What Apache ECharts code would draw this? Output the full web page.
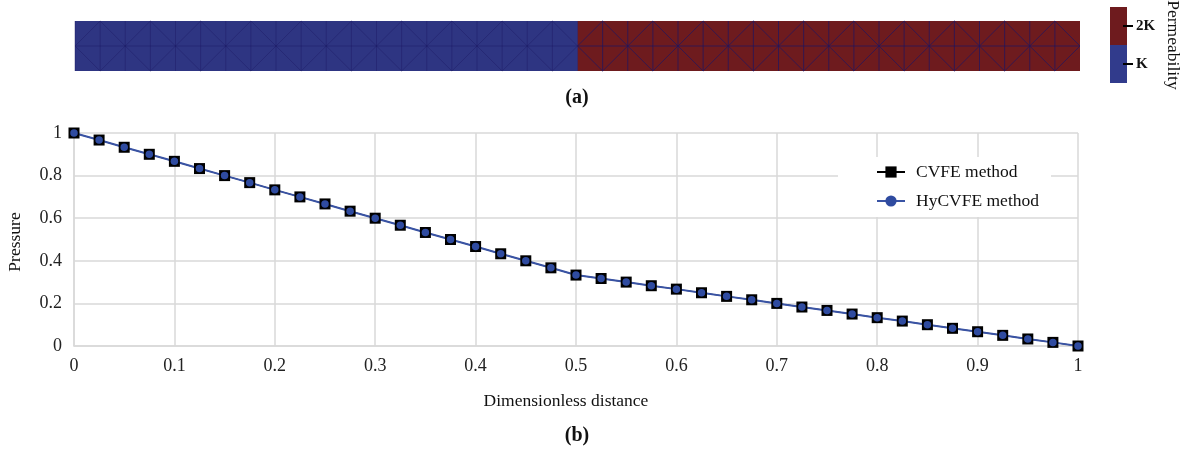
<!DOCTYPE html>
<html>
  <head>
    <title>Permeability and pressure</title>
    <meta http-equiv="Content-Type" content="text/html; charset=UTF-8">
    <style type="text/css">
      body {
        margin: 0;
        padding: 0;
        background-color: white;
      }
      #main {
        width: 1204px;
        height: 452px;
      }
    </style>
  </head>
  <body>
    <div id="main"></div>
    <script src="https://cdn.jsdelivr.net/npm/echarts@6/dist/echarts.min.js" type="text/javascript" charset="utf-8"></script>
    <script type="text/javascript">
      var distance = [0, 0.025, 0.05, 0.075, 0.1, 0.125, 0.15, 0.175, 0.2, 0.225, 0.25, 0.275, 0.3, 0.325, 0.35, 0.375, 0.4, 0.425, 0.45, 0.475, 0.5,
        0.525, 0.55, 0.575, 0.6, 0.625, 0.65, 0.675, 0.7, 0.725, 0.75, 0.775, 0.8, 0.825, 0.85, 0.875, 0.9, 0.925, 0.95, 0.975, 1];
      var cvfePressure = [1, 0.967, 0.933, 0.9, 0.867, 0.833, 0.8, 0.767, 0.733, 0.7, 0.667, 0.633, 0.6, 0.567, 0.533, 0.5, 0.467, 0.433, 0.4, 0.367, 0.333,
        0.317, 0.3, 0.283, 0.267, 0.25, 0.233, 0.217, 0.2, 0.183, 0.167, 0.15, 0.133, 0.117, 0.1, 0.083, 0.067, 0.05, 0.033, 0.017, 0];
      var hycvfePressure = [1, 0.967, 0.933, 0.9, 0.867, 0.833, 0.8, 0.767, 0.733, 0.7, 0.667, 0.633, 0.6, 0.567, 0.533, 0.5, 0.467, 0.433, 0.4, 0.367, 0.333,
        0.317, 0.3, 0.283, 0.267, 0.25, 0.233, 0.217, 0.2, 0.183, 0.167, 0.15, 0.133, 0.117, 0.1, 0.083, 0.067, 0.05, 0.033, 0.017, 0];
      var seriesNames = ['CVFE method', 'HyCVFE method'];
      var regionStart = [0, 0.5];
      var regionEnd = [0.5, 1];
      var regionColors = ['#2e3582', '#6e1b1e'];
      var permeabilityLabels = ['K', '2K'];
      var permeabilityColors = ['#313b8c', '#6e1b1e'];

      var serif = '"Liberation Serif", "Times New Roman", serif';

      function pairs(xs, ys) {
        return xs.map(function (x, i) { return [x, ys[i]]; });
      }

      // one rectangle per permeability region
      function renderRegion(params, api) {
        var a = api.coord([api.value(0), 0]);
        var b = api.coord([api.value(1), 1]);
        return {
          type: 'rect',
          shape: { x: a[0], y: b[1], width: b[0] - a[0], height: a[1] - b[1] },
          style: { fill: regionColors[params.dataIndex] }
        };
      }

      // left edge + midline + the two diagonals of each mesh column
      function renderMesh(params, api) {
        var x0 = api.value(0);
        var x1 = api.value(1);
        var even = params.dataIndex % 2 === 0;
        // the mesh reads stronger over the red half
        var stroke = x0 < regionEnd[0] ? 'rgba(28,22,98,0.4)' : 'rgba(28,22,98,0.7)';
        var lineStyle = { stroke: stroke, lineWidth: 1, fill: null };
        var segs = [
          [[x0, 0], [x0, 1]],
          [[x0, 0.5], [x1, 0.5]],
          even ? [[x0, 0.5], [x1, 1]] : [[x0, 1], [x1, 0.5]],
          even ? [[x0, 0.5], [x1, 0]] : [[x0, 0], [x1, 0.5]]
        ];
        return {
          type: 'group',
          children: segs.map(function (s) {
            var p = api.coord(s[0]);
            var q = api.coord(s[1]);
            return { type: 'line', shape: { x1: p[0], y1: p[1], x2: q[0], y2: q[1] }, style: lineStyle };
          })
        };
      }

      // colour bar ticks straddle the right edge of the bar, axisTick would not sit there
      function renderBandTick(params, api) {
        var p = api.coord([1, params.dataIndex]);
        return {
          type: 'line',
          shape: { x1: p[0] - 4, y1: p[1], x2: p[0] + 6, y2: p[1] },
          style: { stroke: '#000', lineWidth: 2 }
        };
      }

      var myChart = echarts.init(document.getElementById('main'));
      var option = {
        backgroundColor: 'white',
        animation: false,
        textStyle: { fontFamily: serif },
        title: [
          { text: '(a)', left: 577, top: 88, textAlign: 'center', padding: 0,
            textStyle: { fontFamily: serif, fontSize: 20, fontWeight: 'bold', color: '#111' } },
          { text: '(b)', left: 577, top: 426, textAlign: 'center', padding: 0,
            textStyle: { fontFamily: serif, fontSize: 20, fontWeight: 'bold', color: '#111' } }
        ],
        grid: [
          { left: 74, top: 133, width: 1004, height: 213, outerBoundsMode: 'none' },
          { left: 75, top: 21, width: 1005, height: 50, outerBoundsMode: 'none' },
          { left: 1110, top: 7, width: 17, height: 76, outerBoundsMode: 'none' }
        ],
        legend: {
          data: seriesNames,
          orient: 'vertical',
          left: 838,
          top: 157,
          padding: [6, 12, 7, 38],
          backgroundColor: '#fff',
          itemWidth: 28,
          itemHeight: 14,
          itemGap: 11,
          symbolSize: 8,
          align: 'left',
          textStyle: { fontFamily: serif, fontSize: 17.5, color: '#111', padding: [0, 0, 0, 6] }
        },
        xAxis: [
          {
            gridIndex: 0, type: 'value', min: 0, max: 1, interval: 0.1,
            name: 'Dimensionless distance', nameLocation: 'middle', nameGap: 46,
            nameTextStyle: { fontFamily: serif, fontSize: 17.5, color: '#111', padding: [0, 20, 0, 0] },
            axisLine: { show: true, lineStyle: { color: '#d9d9d9', width: 1.5 } },
            axisTick: { show: false },
            axisLabel: { fontFamily: serif, fontSize: 18, color: '#222', margin: 11 },
            splitLine: { show: true, lineStyle: { color: '#d9d9d9', width: 1.5 } }
          },
          { gridIndex: 1, type: 'value', min: 0, max: 1, show: false },
          { gridIndex: 2, type: 'value', min: 0, max: 1, show: false }
        ],
        yAxis: [
          {
            gridIndex: 0, type: 'value', min: 0, max: 1, interval: 0.2,
            name: 'Pressure', nameLocation: 'middle', nameGap: 50,
            nameTextStyle: { fontFamily: serif, fontSize: 17.5, color: '#111', padding: [0, 5, 0, 0] },
            axisLine: { show: true, lineStyle: { color: '#d9d9d9', width: 1.5 } },
            axisTick: { show: false },
            axisLabel: { fontFamily: serif, fontSize: 18, color: '#222', margin: 12 },
            splitLine: { show: true, lineStyle: { color: '#d9d9d9', width: 1.5 } }
          },
          { gridIndex: 1, type: 'value', min: 0, max: 1, show: false },
          {
            gridIndex: 2, type: 'category', position: 'right', offset: 7, z: 5,
            data: permeabilityLabels,
            name: 'Permeability', nameLocation: 'middle', nameRotate: -90, nameGap: 30,
            nameTextStyle: { fontFamily: serif, fontSize: 17.5, color: '#111' },
            axisLine: { show: false },
            axisTick: { show: false },
            axisLabel: { fontFamily: serif, fontSize: 15, fontWeight: 'bold', color: '#111', margin: 2 },
            splitLine: { show: false }
          }
        ],
        series: [
          {
            name: seriesNames[0], type: 'line', xAxisIndex: 0, yAxisIndex: 0,
            data: pairs(distance, cvfePressure),
            symbol: 'rect', symbolSize: 11, showSymbol: true,
            lineStyle: { color: '#000', width: 1 },
            itemStyle: { color: '#000' }
          },
          {
            name: seriesNames[1], type: 'line', xAxisIndex: 0, yAxisIndex: 0,
            data: pairs(distance, hycvfePressure),
            symbol: 'circle', symbolSize: 7.5, showSymbol: true,
            lineStyle: { color: '#3953a4', width: 2 },
            itemStyle: { color: '#2f4ba0' }
          },
          {
            type: 'custom', xAxisIndex: 1, yAxisIndex: 1, silent: true,
            renderItem: renderRegion,
            data: pairs(regionStart, regionEnd),
            encode: { x: [0, 1] }
          },
          {
            type: 'custom', xAxisIndex: 1, yAxisIndex: 1, silent: true, z: 3,
            renderItem: renderMesh,
            data: pairs(distance.slice(0, -1), distance.slice(1)),
            encode: { x: [0, 1] }
          },
          {
            // colour bar: one full-width bar per band
            type: 'bar', xAxisIndex: 2, yAxisIndex: 2, silent: true,
            barWidth: '100%', barCategoryGap: 0,
            data: permeabilityLabels.map(function (label, i) {
              return { value: 1, itemStyle: { color: permeabilityColors[i] } };
            })
          },
          {
            type: 'custom', xAxisIndex: 2, yAxisIndex: 2, silent: true, z: 4,
            renderItem: renderBandTick,
            data: permeabilityLabels.map(function (label) { return [1, label]; }),
            encode: { x: 0, y: 1 }
          }
        ]
      };
      myChart.setOption(option);
    </script>
  </body>
</html>
